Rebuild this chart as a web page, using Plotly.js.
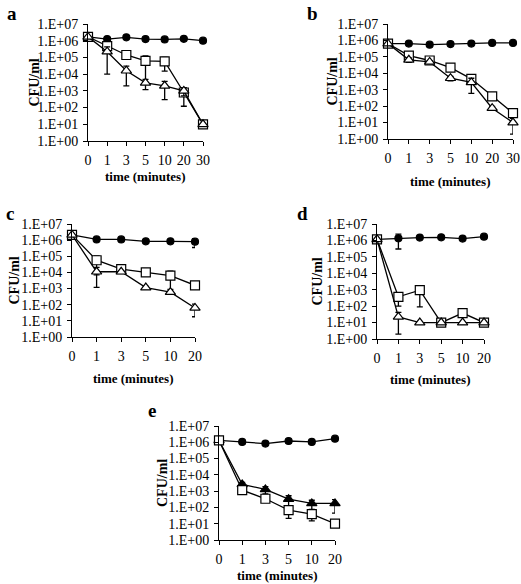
<!DOCTYPE html>
<html><head><meta charset="utf-8">
<script src="https://cdn.plot.ly/plotly-3.0.1.min.js"></script>
<style>html,body{margin:0;padding:0;background:#fff}#plot{width:521px;height:584px}</style>
</head><body><div id="plot"></div>
<script>
// categories
var timesA = ['0','1','3','5','10','20','30'];
var timesB = ['0','1','3','5','10','20','30'];
var timesC = ['0','1','3','5','10','20'];
var timesD = ['0','1','3','5','10','20'];
var timesE = ['0','1','3','5','10','20'];
var yTickVals = [1,10,100,1000,10000,100000,1000000,10000000];
var yTickText = ['1.E+00','1.E+01','1.E+02','1.E+03','1.E+04','1.E+05','1.E+06','1.E+07'];
var xTitle = 'time (minutes)';
var yTitle = 'CFU/ml';
var panelLetters = ['a','b','c','d','e'];

// panel a
var aCircle = [1.7e6,1.25e6,1.6e6,1.25e6,1.2e6,1.3e6,1.0e6];
var aCircleSd = [0,0,0,0,0,0,0];
var aSquare = [1.7e6,4.8e5,1.4e5,6.3e4,5.8e4,8e2,10];
var aSquareSd = [0,1e5,4e4,6e4,4.3e4,6.8e2,0];
var aTri = [1.7e6,2.2e5,1.6e4,3e3,2e3,1e3,10];
var aTriSd = [0,2.1e5,1.4e4,1.8e3,1.7e3,5e2,0];
// panel b
var bCircle = [6.4e5,6.4e5,5.5e5,6e5,6.4e5,7e5,7e5];
var bCircleSd = [0,0,0,0,0,0,0];
var bSquare = [6.4e5,1.2e5,6e4,2.2e4,4.6e3,3.9e2,38];
var bSquareSd = [0,2e4,1e4,5e3,1e3,50,8];
var bTri = [6.4e5,6.6e4,4.9e4,5e3,2.8e3,75,10];
var bTriSd = [0,2e4,1e4,1.5e3,2.2e3,20,8];
// panel c
var cCircle = [2.1e6,1.1e6,1.1e6,8.5e5,8.5e5,8e5];
var cCircleSd = [0,1e5,2e5,2e5,1.5e5,4.5e5];
var cSquare = [2.1e6,5.7e4,1.6e4,1e4,6.4e3,1.6e3];
var cSquareSd = [0,5e4,3e3,1e3,5.5e3,2e2];
var cTri = [2.1e6,1.1e4,1.1e4,1.15e3,6e2,63];
var cTriSd = [0,9.8e3,2e3,2e2,1e2,45];
// panel d
var dCircle = [1.17e6,1.35e6,1.5e6,1.55e6,1.3e6,1.7e6];
var dCircleSd = [0,1.05e6,1e5,2e5,3e5,1e5];
var dSquare = [1.17e6,3.7e2,9.4e2,10,38,10];
var dSquareSd = [0,2.7e2,8.5e2,0,30,0];
var dTri = [1.17e6,22,10,10,10,10];
var dTriSd = [0,20,0,0,0,0];
// panel e
var eCircle = [1.3e6,1.05e6,8.3e5,1.2e6,1.05e6,1.67e6];
var eCircleSd = [0,3e5,1e5,3.5e5,3e5,0];
var eTriFilled = [1.3e6,2.6e3,1.27e3,3.2e2,1.75e2,1.75e2];
var eTriFilledSd = [0,8e2,6e2,2e2,1e2,1.3e2];
var eSquare = [1.3e6,1.15e3,3.4e2,69,39,10];
var eSquareSd = [0,2e2,1.2e2,48,24,0];

var traces = [];
function add(x, y, sd, sym, fill, size, ax) {
  traces.push({
    type:'scatter', mode:'lines+markers', x:x, y:y,
    xaxis:'x'+ax, yaxis:'y'+ax,
    line:{color:'#000', width:1.3},
    marker:{symbol:sym, size:size, color:fill, line:{color:'#000', width:1.2}},
    error_y:{type:'data', array:sd, visible:true, color:'#000', thickness:1.3, width:3},
    showlegend:false, cliponaxis:false
  });
}
add(timesA, aCircle, aCircleSd, 'circle', '#000', 7, '');
add(timesA, aSquare, aSquareSd, 'square', '#fff', 9, '');
add(timesA, aTri, aTriSd, 'triangle-up', '#fff', 9, '');
add(timesB, bCircle, bCircleSd, 'circle', '#000', 7, '2');
add(timesB, bSquare, bSquareSd, 'square', '#fff', 9, '2');
add(timesB, bTri, bTriSd, 'triangle-up', '#fff', 9, '2');
add(timesC, cCircle, cCircleSd, 'circle', '#000', 7, '3');
add(timesC, cSquare, cSquareSd, 'square', '#fff', 9, '3');
add(timesC, cTri, cTriSd, 'triangle-up', '#fff', 9, '3');
add(timesD, dCircle, dCircleSd, 'circle', '#000', 7, '4');
add(timesD, dSquare, dSquareSd, 'square', '#fff', 9, '4');
add(timesD, dTri, dTriSd, 'triangle-up', '#fff', 9, '4');
add(timesE, eCircle, eCircleSd, 'circle', '#000', 7, '5');
add(timesE, eTriFilled, eTriFilledSd, 'triangle-up', '#000', 9, '5');
add(timesE, eSquare, eSquareSd, 'square', '#fff', 9, '5');

var fam = 'Liberation Serif, Times New Roman, serif';
var font = {family:fam, size:14, color:'#000'};
function xa(dom, n, anchor) {
  return {domain:dom, type:'category', range:[0,n-1], showline:true, linecolor:'#000', linewidth:1,
    ticks:'outside', ticklen:4, tickcolor:'#000', tickfont:font, showgrid:false, zeroline:false,
    anchor:anchor, ticklabelstandoff:2};
}
function ya(dom, anchor) {
  return {domain:dom, type:'log', range:[0,7], showline:true, linecolor:'#000', linewidth:1,
    ticks:'outside', ticklen:4, tickcolor:'#000', tickfont:font, showgrid:false, zeroline:false,
    tickvals:yTickVals, ticktext:yTickText, anchor:anchor, ticklabelstandoff:2};
}
// panel geometry in pixels: [left, right, top, bottom]
var geo = [[88,203,24,141],[388,513,24,139],[72,195,224,337],[377,484,224,339],[219,335,426,540]];
var letterPos = [[12,14],[312,13],[10,213],[302,213],[152,410]];
var xTitleY = [176,181,378,379,575];
var yTitleX = [34,332,14,317,162];
var nCats = [7,7,6,6,6];
var layout = {
  width:521, height:584, margin:{l:0,r:0,t:0,b:0},
  paper_bgcolor:'#fff', plot_bgcolor:'rgba(0,0,0,0)', showlegend:false, annotations:[]
};
geo.forEach(function(g, i){
  var s = i === 0 ? '' : String(i+1);
  layout['xaxis'+s] = xa([g[0]/521, g[1]/521], nCats[i], 'y'+s);
  layout['yaxis'+s] = ya([1-g[3]/584, 1-g[2]/584], 'x'+s);
  layout.annotations.push({text:'<b>'+panelLetters[i]+'</b>', x:letterPos[i][0]/521, y:1-letterPos[i][1]/584,
    xref:'paper', yref:'paper', showarrow:false, xanchor:'center', yanchor:'middle',
    font:{family:fam, size:19, color:'#000'}});
  layout.annotations.push({text:'<b>'+xTitle+'</b>', x:(g[0]+g[1])/2/521, y:1-xTitleY[i]/584,
    xref:'paper', yref:'paper', showarrow:false, xanchor:'center', yanchor:'middle', borderpad:0,
    font:{family:fam, size:13, color:'#000'}});
  layout.annotations.push({text:'<b>'+yTitle+'</b>', x:yTitleX[i]/521, y:1-(g[2]+g[3])/2/584,
    xref:'paper', yref:'paper', showarrow:false, xanchor:'center', yanchor:'middle', textangle:-90,
    font:{family:fam, size:14, color:'#000'}});
});
Plotly.newPlot('plot', traces, layout, {staticPlot:true});
</script></body></html>
